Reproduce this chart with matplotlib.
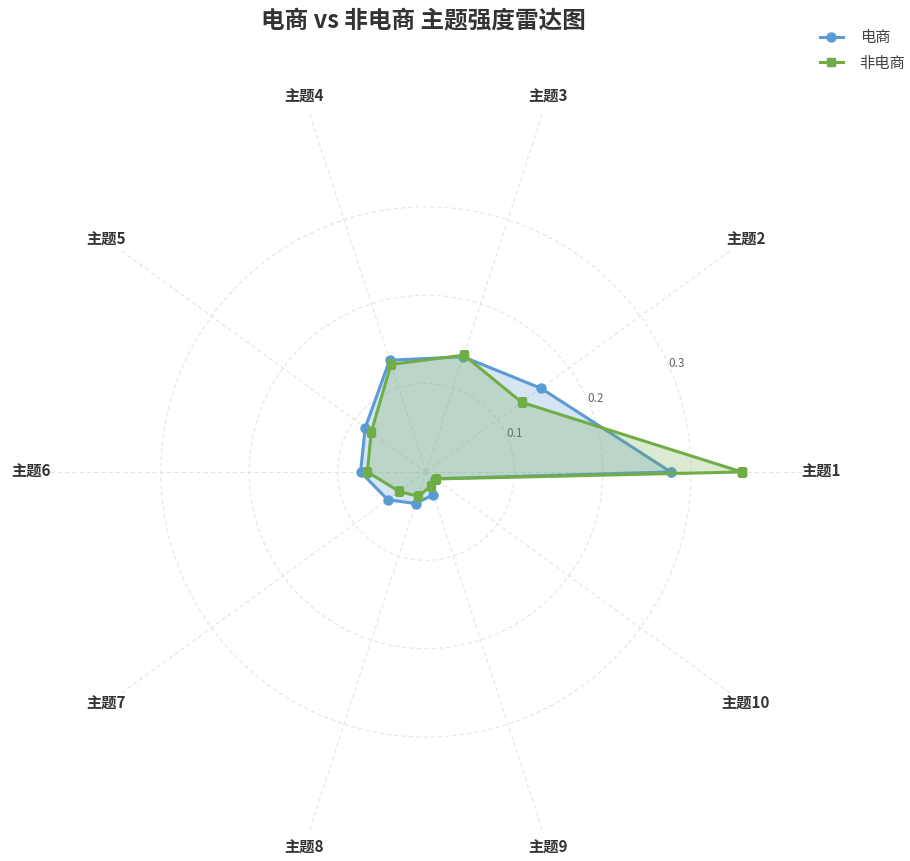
import numpy as np
import matplotlib
matplotlib.use("Agg")
import matplotlib.pyplot as plt

plt.rcParams['font.family'] = ['Noto Sans CJK SC', 'DejaVu Sans']

# topic strengths for the two groups
topics = ["主题1", "主题2", "主题3", "主题4", "主题5",
          "主题6", "主题7", "主题8", "主题9", "主题10"]
ecom = [0.277, 0.161, 0.137, 0.133, 0.085, 0.074, 0.0535, 0.0376, 0.027, 0.013]
non_ecom = [0.3575, 0.134, 0.139, 0.128, 0.0766, 0.0663, 0.0375, 0.029, 0.017, 0.0135]
r_ticks = [0.1, 0.2, 0.3]
r_max = 0.43

blue = "#5b9bd5"
green = "#70ad47"
grid_c = "#e2e2e2"

n = len(topics)
angles = np.arange(n) * 2 * np.pi / n
closed = np.append(angles, angles[0])

fig = plt.figure(figsize=(9.1, 8.61), dpi=100)
ax = fig.add_axes([0.0505, 0.0105, 0.8352, 0.8827], projection="polar")

ax.set_ylim(0, r_max)
ax.spines["polar"].set_visible(False)
ax.set_thetagrids(np.degrees(angles), [""] * n)
ax.set_rgrids(r_ticks, [""] * len(r_ticks))
ax.grid(True, color=grid_c, linestyle=(0, (4, 3)), linewidth=0.75)
ax.tick_params(length=0)

e = np.append(ecom, ecom[0])
ne = np.append(non_ecom, non_ecom[0])
ax.fill(closed, e, color=blue, alpha=0.25, lw=0, zorder=2)
ax.plot(closed, e, color=blue, lw=2.2, marker="o", ms=6.5, zorder=3, label="电商")
ax.fill(closed, ne, color=green, alpha=0.25, lw=0, zorder=4)
ax.plot(closed, ne, color=green, lw=2.2, marker="s", ms=6, zorder=5, label="非电商")

# category labels around the outside
for a, t in zip(angles, topics):
    ax.text(a, 0.447, t, ha="center", va="center", fontsize=11,
            fontweight="bold", color="#333333", clip_on=False)

# radial tick labels
for r in r_ticks:
    ax.text(np.radians(23.5), r + 0.009, f"{r:g}", ha="center", va="center",
            fontsize=8.5, color="#666666")

fig.text(0.465, 0.976, "电商 vs 非电商 主题强度雷达图", ha="center", va="center",
         fontsize=17, fontweight="bold", color="#333333")

fig.legend(loc="upper right", bbox_to_anchor=(1.01, 0.982), frameon=False,
           fontsize=11, handlelength=1.5, handletextpad=1.1, labelspacing=0.55,
           labelcolor="#444444")

fig.savefig("out.png", dpi=100, facecolor="white")
